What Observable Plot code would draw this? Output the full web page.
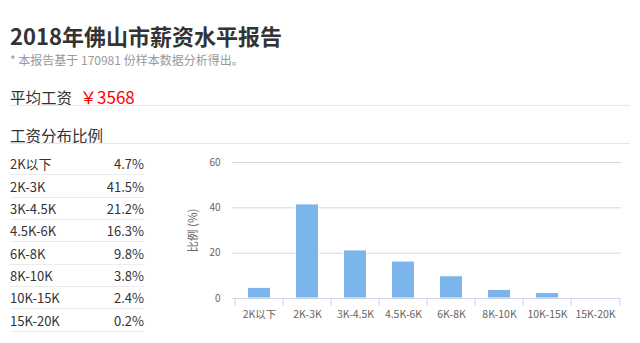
<!DOCTYPE html>
<html><head><meta charset="utf-8">
<script src="https://cdn.jsdelivr.net/npm/d3@7"></script>
<script src="https://cdn.jsdelivr.net/npm/@observablehq/plot@0.6"></script>
<style>
body{margin:0;width:640px;height:343px;position:relative;background:#fff;font-family:"Noto Sans CJK SC","Noto Sans",sans-serif;overflow:hidden}
.abs{position:absolute;white-space:nowrap}
#title{left:10px;top:20px;font-size:22px;font-weight:bold;color:#333;line-height:30px}
#sub{left:10px;top:52px;font-size:12px;color:#999;line-height:16px}
#avg{left:10px;top:86px;font-size:15.5px;color:#333;line-height:22px}
#avg span{color:#f00;margin-left:8px;font-size:17px}
.hr{position:absolute;left:10px;width:620px;height:0;border-top:1px solid #e8e8e8}
#dist{left:10px;top:124px;font-size:15.5px;color:#333;line-height:22px}
.row{position:absolute;left:10px;width:134px;height:21px;line-height:22px;border-bottom:1px solid #ececec;font-size:13px;color:#333}
.row .v{position:absolute;right:0;top:0}
#chart{position:absolute;left:180px;top:150px}
</style></head>
<body>
<div class="abs" id="title">2018年佛山市薪资水平报告</div>
<div class="abs" id="sub">* 本报告基于 170981 份样本数据分析得出。</div>
<div class="abs" id="avg">平均工资<span>￥3568</span></div>
<div class="hr" style="top:105px"></div>
<div class="abs" id="dist">工资分布比例</div>
<div class="hr" style="top:143px"></div>
<div id="rows"></div>
<div id="chart"></div>
<script>
const categories = ["2K以下","2K-3K","3K-4.5K","4.5K-6K","6K-8K","8K-10K","10K-15K","15K-20K"];
const percents = [4.7, 41.5, 21.2, 16.3, 9.8, 3.8, 2.4, 0.2];
const yTicks = [0, 20, 40, 60];

const rowsEl = document.getElementById("rows");
categories.forEach((c, i) => {
  const r = document.createElement("div");
  r.className = "row";
  r.style.top = (153.4 + 22.3 * i) + "px";
  r.innerHTML = `<span>${c}</span><span class="v">${percents[i].toFixed(1)}%</span>`;
  rowsEl.appendChild(r);
});

const data = categories.map((c, i) => ({cat: c, v: percents[i]}));
const W = 460, H = 180, mL = 52, mR = 19, mT = 12, mB = 32;
const step = (W - mL - mR) / categories.length;

const chart = Plot.plot({
  width: W, height: H,
  marginLeft: mL, marginRight: mR, marginTop: mT, marginBottom: mB,
  style: {fontFamily: '"Noto Sans CJK SC","Noto Sans",sans-serif', fontSize: "11px", color: "#666", background: "transparent", overflow: "visible"},
  x: {domain: categories, padding: 0},
  y: {domain: [0, 60]},
  marks: [
    Plot.ruleY(yTicks.filter(t => t > 0), {stroke: "#d6d6d6"}),
    Plot.barY(data, {x: "cat", y: "v", fill: "#7cb5ec", stroke: "#fff", strokeWidth: 1, insetLeft: 12.5, insetRight: 12.5}),
    Plot.ruleY([0], {stroke: "#ccd6eb"}),
    Plot.axisY({ticks: yTicks, tickSize: 0, tickPadding: 12, fontSize: 10, fill: "#666", label: null}),
    Plot.axisY({ticks: [], tickSize: 0, fontSize: 11.5, fill: "#666",
      label: "比例 (%)", labelAnchor: "center", labelArrow: "none", labelOffset: 44}),
    Plot.axisX({ticks: categories, tickSize: 8, tickFormat: () => "", stroke: "#ccd6eb", dx: -step / 2, label: null}),
    Plot.axisX({ticks: categories.slice(-1), tickSize: 8, tickFormat: () => "", stroke: "#ccd6eb", dx: step / 2, label: null}),
    Plot.axisX({ticks: categories, tickSize: 0, tickPadding: 12, fill: "#666", fontSize: 10.5, label: null})
  ]
});
document.getElementById("chart").appendChild(chart);
</script>
</body></html>
